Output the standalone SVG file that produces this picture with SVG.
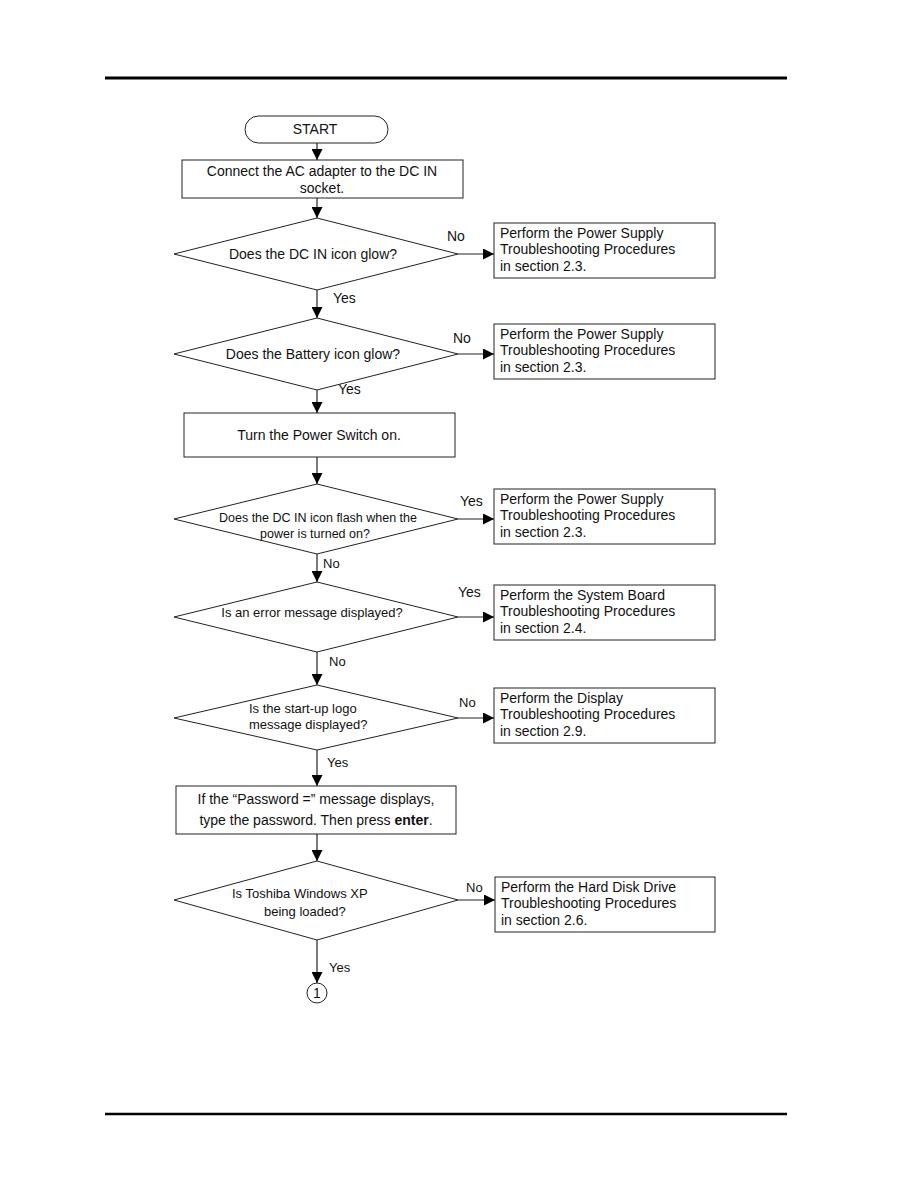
<svg xmlns="http://www.w3.org/2000/svg" width="918" height="1188" viewBox="0 0 918 1188">
<defs>
<marker id="ah" viewBox="0 0 10 10" refX="10" refY="5" markerWidth="10" markerHeight="10" markerUnits="userSpaceOnUse" orient="auto">
<path d="M0,0 L10,5 L0,10 Z" fill="#000"/>
</marker>
<marker id="ahv" viewBox="0 0 10 10" refX="10" refY="5" markerWidth="13" markerHeight="11" markerUnits="userSpaceOnUse" orient="auto">
<path d="M0,0 L10,5 L0,10 Z" fill="#000"/>
</marker>
</defs>
<style>
text{font-family:"Liberation Sans",Arial,sans-serif;font-size:14px;fill:#111}
.s{font-size:12.5px}
.l{font-size:13px}
.c{text-anchor:middle}
.sh{fill:#fff;stroke:#222;stroke-width:1}
.cn{stroke:#222;stroke-width:1.2;fill:none}
.rule{stroke:#000}
</style>
<rect width="918" height="1188" fill="#fff"/>
<line class="rule" x1="105" y1="78" x2="787" y2="78" stroke-width="3"/>
<line class="rule" x1="105" y1="1114" x2="787" y2="1114" stroke-width="2.5"/>

<g id="connectors">
<line class="cn" x1="317" y1="142" x2="317" y2="160" marker-end="url(#ahv)"/>
<line class="cn" x1="317" y1="198" x2="317" y2="218" marker-end="url(#ahv)"/>
<line class="cn" x1="458" y1="254" x2="494" y2="254" marker-end="url(#ahv)"/>
<line class="cn" x1="317" y1="290" x2="317" y2="318" marker-end="url(#ahv)"/>
<line class="cn" x1="458" y1="354" x2="494" y2="354" marker-end="url(#ahv)"/>
<line class="cn" x1="317" y1="390" x2="317" y2="413" marker-end="url(#ahv)"/>
<line class="cn" x1="317" y1="457" x2="317" y2="484" marker-end="url(#ahv)"/>
<line class="cn" x1="458" y1="519" x2="494" y2="519" marker-end="url(#ahv)"/>
<line class="cn" x1="317" y1="554" x2="317" y2="582" marker-end="url(#ahv)"/>
<line class="cn" x1="458" y1="617" x2="494" y2="617" marker-end="url(#ahv)"/>
<line class="cn" x1="317" y1="652" x2="317" y2="685" marker-end="url(#ahv)"/>
<line class="cn" x1="458" y1="718" x2="494" y2="718" marker-end="url(#ahv)"/>
<line class="cn" x1="317" y1="750" x2="317" y2="786" marker-end="url(#ahv)"/>
<line class="cn" x1="317" y1="834" x2="317" y2="861" marker-end="url(#ahv)"/>
<line class="cn" x1="458" y1="900" x2="495" y2="900" marker-end="url(#ahv)"/>
<line class="cn" x1="317" y1="940" x2="317" y2="983" marker-end="url(#ahv)"/>
<text x="447" y="241">No</text>
<text x="333" y="303">Yes</text>
<text x="453" y="343">No</text>
<text x="338" y="394">Yes</text>
<text x="460" y="506">Yes</text>
<text x="323" y="568" class="l">No</text>
<text x="458" y="597">Yes</text>
<text x="329" y="666" class="l">No</text>
<text x="459" y="707" class="l">No</text>
<text x="327" y="767" class="l">Yes</text>
<text x="466" y="892" class="l">No</text>
<text x="329" y="972" class="l">Yes</text>
</g>

<g id="start">
<rect class="sh" x="245" y="116" width="143" height="27" rx="13.5"/>
<text x="315" y="134" class="c">START</text>
</g>

<g id="connect">
<rect class="sh" x="182" y="160" width="281" height="38"/>
<text x="322" y="176" class="c">Connect the AC adapter to the DC IN</text>
<text x="322" y="193" class="c">socket.</text>
</g>

<g id="q1">
<polygon class="sh" points="317,218 458,254 317,290 174,254"/>
<text x="313" y="259" class="c">Does the DC IN icon glow?</text>
</g>
<g id="r1">
<rect class="sh" x="494" y="223" width="221" height="55"/>
<text x="500" y="238">Perform the Power Supply</text>
<text x="500" y="254">Troubleshooting Procedures</text>
<text x="500" y="271">in section 2.3.</text>
</g>

<g id="q2">
<polygon class="sh" points="317,318 458,354 317,390 174,354"/>
<text x="313" y="359" class="c">Does the Battery icon glow?</text>
</g>
<g id="r2">
<rect class="sh" x="494" y="324" width="221" height="55"/>
<text x="500" y="339">Perform the Power Supply</text>
<text x="500" y="355">Troubleshooting Procedures</text>
<text x="500" y="372">in section 2.3.</text>
</g>

<g id="power">
<rect class="sh" x="184" y="413" width="271" height="44"/>
<text x="319" y="440" class="c">Turn the Power Switch on.</text>
</g>

<g id="q3">
<polygon class="sh" points="317,484 458,519 317,554 174,519"/>
<text x="318" y="522" class="c s">Does the DC IN icon flash when the</text>
<text x="315" y="538" class="c s">power is turned on?</text>
</g>
<g id="r3">
<rect class="sh" x="494" y="489" width="221" height="55"/>
<text x="500" y="504">Perform the Power Supply</text>
<text x="500" y="520">Troubleshooting Procedures</text>
<text x="500" y="537">in section 2.3.</text>
</g>

<g id="q4">
<polygon class="sh" points="317,582 458,617 317,652 174,617"/>
<text x="312" y="617" class="c l">Is an error message displayed?</text>
</g>
<g id="r4">
<rect class="sh" x="494" y="585" width="221" height="55"/>
<text x="500" y="600">Perform the System Board</text>
<text x="500" y="616">Troubleshooting Procedures</text>
<text x="500" y="633">in section 2.4.</text>
</g>

<g id="q5">
<polygon class="sh" points="317,685 458,718 317,750 174,718"/>
<text x="249" y="713" class="l">Is the start-up logo</text>
<text x="249" y="729" class="l">message displayed?</text>
</g>
<g id="r5">
<rect class="sh" x="494" y="688" width="221" height="55"/>
<text x="500" y="703">Perform the Display</text>
<text x="500" y="719">Troubleshooting Procedures</text>
<text x="500" y="736">in section 2.9.</text>
</g>

<g id="password">
<rect class="sh" x="176" y="786" width="280" height="48"/>
<text x="316" y="804" class="c">If the “Password =” message displays,</text>
<text x="316" y="825" class="c">type the password. Then press <tspan font-weight="bold">enter</tspan>.</text>
</g>

<g id="q6">
<polygon class="sh" points="317,861 458,900 317,940 174,900"/>
<text x="232" y="898" class="l">Is Toshiba Windows XP</text>
<text x="264" y="916" class="l">being loaded?</text>
</g>
<g id="r6">
<rect class="sh" x="495" y="877" width="220" height="55"/>
<text x="501" y="892">Perform the Hard Disk Drive</text>
<text x="501" y="908">Troubleshooting Procedures</text>
<text x="501" y="925">in section 2.6.</text>
</g>

<g id="conn1">
<circle class="sh" cx="317" cy="993" r="10"/>
<text x="317" y="998" class="c">1</text>
</g>
</svg>
